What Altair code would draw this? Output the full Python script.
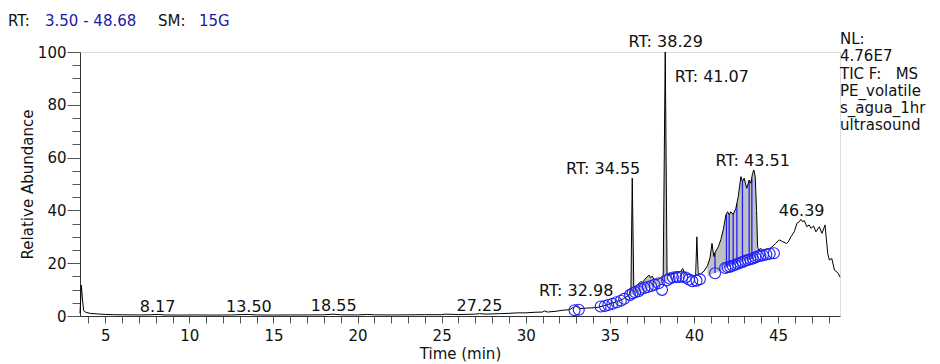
import altair as alt
import pandas as pd

# ---------------- data ----------------
time_min = [3.50, 3.58, 3.65, 3.72, 3.85, 4.10, 4.50, 5.00, 5.50, 6.00, 7.00, 7.60, 8.17, 8.50,
            9.50, 10.50, 11.50, 12.50, 13.50, 14.00, 15.00, 16.00, 17.00, 18.00, 18.55, 19.00,
            20.00, 20.60, 21.00, 22.00, 23.00, 24.00, 25.00, 25.20, 26.00, 27.00, 27.25, 27.60,
            28.00, 28.50, 29.00, 29.50, 30.00, 30.50, 31.00, 31.10, 31.30, 31.80, 32.20, 32.60,
            32.98, 33.20, 33.60, 34.00, 34.30, 34.60, 35.00, 35.40, 35.80, 36.10, 36.25, 36.33,
            36.42, 36.63, 36.83, 36.95, 37.13, 37.33, 37.42, 37.52, 37.62, 37.82, 38.00, 38.17,
            38.29, 38.40, 38.70, 39.00, 39.20, 39.33, 39.45, 39.60, 39.80, 40.00, 40.10, 40.17,
            40.25, 40.40, 40.60, 40.80, 40.95, 41.07, 41.18, 41.25, 41.45, 41.60, 41.75, 41.90,
            42.00, 42.09, 42.19, 42.33, 42.49, 42.63, 42.79, 42.88, 42.98, 43.14, 43.28, 43.38,
            43.48, 43.56, 43.64, 43.72, 43.78, 43.84, 43.98, 44.10, 44.30, 44.50, 44.70, 44.85,
            45.07, 45.27, 45.50, 45.60, 45.76, 45.96, 46.12, 46.26, 46.36, 46.46, 46.56, 46.71,
            46.85, 46.95, 47.11, 47.25, 47.45, 47.61, 47.79, 47.95, 48.05, 48.19, 48.35, 48.58,
            48.68]
abundance = [1.0, 11.7, 6.0, 2.0, 1.4, 1.0, 0.8, 0.6, 0.5, 0.45, 0.4, 0.45, 0.6, 0.4,
             0.35, 0.4, 0.35, 0.4, 0.6, 0.4, 0.35, 0.4, 0.4, 0.45, 0.7, 0.45,
             0.4, 0.6, 0.45, 0.4, 0.45, 0.5, 0.5, 0.7, 0.55, 0.7, 0.9, 0.7,
             0.8, 0.9, 1.0, 1.2, 1.2, 1.4, 1.5, 1.9, 1.5, 1.8, 2.2, 2.4,
             3.8, 2.8, 3.0, 3.1, 3.3, 3.8, 4.6, 5.4, 6.5, 7.8, 9.5, 52.2,
             11.0, 11.7, 13.0, 12.8, 14.3, 15.5, 14.5, 15.1, 13.9, 13.8, 14.3, 15.5,
             100.0, 15.5, 16.0, 16.4, 16.8, 18.0, 16.0, 15.8, 15.6, 15.2, 15.4, 30.0,
             15.8, 16.0, 17.0, 19.0, 22.0, 27.5, 22.5, 24.0, 26.3, 29.0, 33.0, 38.3,
             39.5, 38.3, 39.5, 38.5, 40.8, 45.2, 52.8, 50.9, 52.2, 48.4, 51.5, 50.3,
             54.0, 55.3, 52.8, 40.0, 26.3, 25.0, 25.6, 24.8, 25.3, 25.5, 26.5, 27.5,
             28.8, 28.2, 27.5, 28.0, 30.0, 31.9, 35.1, 35.7, 36.6, 35.7, 36.1, 33.8,
             34.5, 33.2, 34.1, 31.9, 33.8, 31.3, 34.5, 23.7, 21.2, 21.8, 17.4, 16.2,
             14.7]

# integrated (gray) regions: times on the trace and the baseline below them
fill_t = [36.10, 36.25, 36.33, 36.42, 36.63, 36.83, 36.95, 37.13, 37.33, 37.42, 37.52, 37.62,
          37.82, 38.00, 38.17, 38.29, 38.40,
          40.80, 40.95, 41.07, 41.18, 41.25, 41.45, 41.60, 41.75, 41.90, 42.00, 42.09, 42.19,
          42.33, 42.49, 42.63, 42.79, 42.88, 42.98, 43.14, 43.28, 43.38, 43.48, 43.56, 43.64,
          43.72, 43.78]
fill_base = [7.5, 7.9, 8.1, 8.3, 8.8, 9.3, 9.7, 10.2, 10.7, 10.9, 11.2, 11.4,
             11.8, 12.2, 12.6, 13.0, 13.4,
             15.1, 15.5, 15.8, 16.1, 16.3, 16.8, 17.3, 17.9, 18.4, 18.6, 18.8, 19.0,
             19.3, 19.7, 20.0, 20.3, 20.5, 20.7, 21.0, 21.3, 21.5, 21.7, 21.9, 22.0,
             22.2, 22.3]
fill_segment = ["a"] * 17 + ["b"] * 26

# blue peak-boundary drop lines
drop_t = [41.25, 41.93, 42.09, 42.33, 42.55, 42.88, 43.28, 43.44]
drop_top = [24.0, 38.5, 38.3, 38.5, 42.5, 50.9, 51.5, 52.0]
drop_bottom = [16.3, 18.5, 18.9, 19.4, 19.8, 20.5, 21.3, 21.6]

# blue open circles (peak start / end markers)
circle_t = [32.90, 33.15, 34.45, 34.70, 34.90, 35.15, 35.40, 35.65, 35.85, 36.20, 36.35, 36.50,
            36.70, 36.85, 37.05, 37.25, 37.45, 37.65, 37.90, 38.10, 38.40, 38.55, 38.75, 38.95,
            39.10, 39.30, 39.50, 39.70, 39.90, 40.15, 40.35, 41.25, 41.85, 42.00, 42.15, 42.30,
            42.45, 42.60, 42.75, 42.90, 43.05, 43.20, 43.35, 43.50, 43.65, 43.80, 43.95, 44.10,
            44.30, 44.50, 44.75]
circle_a = [2.2, 2.4, 3.6, 3.8, 4.2, 4.6, 5.2, 5.8, 6.5, 8.0, 8.6, 9.0,
            9.4, 10.2, 10.6, 11.0, 11.4, 11.8, 12.4, 9.9, 13.5, 14.2, 14.6, 14.8,
            14.8, 14.9, 14.6, 13.8, 13.2, 13.4, 13.9, 16.2, 18.2, 18.5, 18.7, 19.0,
            19.4, 19.8, 20.2, 20.5, 20.9, 21.2, 21.5, 21.8, 22.2, 22.6, 22.8, 23.0,
            23.3, 23.6, 23.8]

# peak annotations
label_text = ["8.17", "13.50", "18.55", "27.25", "RT: 32.98", "RT: 34.55", "RT: 38.29",
              "RT: 41.07", "RT: 43.51", "46.39"]
label_t = [8.11, 13.54, 18.58, 27.25, 33.0, 34.6, 38.32, 41.06, 43.49, 46.40]
label_a = [1.7, 1.7, 1.9, 2.0, 7.6, 53.8, 102.0, 88.7, 56.8, 37.9]

x_tick_values = list(range(4, 49))
y_tick_values = list(range(0, 101, 5))

# ---------------- chart ----------------
FONT = "DejaVu Sans"
BLUE = "#1a1aa6"

trace = pd.DataFrame({"t": time_min, "a": abundance})
lookup = dict(zip(time_min, abundance))
fills = pd.DataFrame({"t": fill_t, "top": [lookup[v] for v in fill_t],
                      "base": fill_base, "seg": fill_segment})
drops = pd.DataFrame({"t": drop_t, "top": drop_top, "bottom": drop_bottom})
circles = pd.DataFrame({"t": circle_t, "a": circle_a})
labels = pd.DataFrame({"t": label_t, "a": label_a, "txt": label_text})

xscale = alt.Scale(domain=[3.5, 48.68], nice=False, zero=False)
yscale = alt.Scale(domain=[0, 100], nice=False, zero=False)

x_axis = alt.Axis(values=x_tick_values, tickCount=200, format="d",
                  labelExpr="datum.value % 5 === 0 ? datum.label : ''",
                  labelOverlap=False, tickSize=7, labelPadding=5, labelFontSize=15,
                  labelFont=FONT, labelColor="#111", title="Time (min)", titleFont=FONT,
                  titleFontSize=15, titleFontWeight="normal", titleColor="#111", titlePadding=3,
                  domainColor="#333", tickColor="#555", grid=False, labelFlush=False)
y_axis = alt.Axis(values=y_tick_values, tickCount=200, format="d",
                  labelExpr="datum.value % 20 === 0 ? datum.label : ''",
                  labelOverlap=False,
                  tickSize={"condition": {"test": "datum.value % 20 === 0", "value": 13}, "value": 8},
                  labelPadding=1, labelFontSize=15, labelFont=FONT, labelColor="#111",
                  title="Relative Abundance", titleFont=FONT, titleFontSize=15,
                  titleFontWeight="normal", titleColor="#111", titlePadding=2,
                  domainColor="#333", tickColor="#555", grid=False, labelFlush=False)

fill_layer = alt.Chart(fills).mark_area(color="#c0c0c0", opacity=1).encode(
    x=alt.X("t:Q", scale=xscale, axis=x_axis),
    y=alt.Y("top:Q", scale=yscale, axis=y_axis),
    y2="base:Q",
    detail="seg:N",
)

drop_layer = alt.Chart(drops).mark_rule(color="#1f1fff", strokeWidth=1.3).encode(
    x="t:Q", y="top:Q", y2="bottom:Q")

line_layer = alt.Chart(trace).mark_line(color="black", strokeWidth=1).encode(
    x="t:Q", y="a:Q")

circle_layer = alt.Chart(circles).mark_point(shape="circle", filled=False, color="#1f1fff",
                                             size=120, strokeWidth=1.1, opacity=1).encode(
    x="t:Q", y="a:Q")

label_layer = alt.Chart(labels).mark_text(font=FONT, fontSize=16, color="#111",
                                          align="center", baseline="alphabetic").encode(
    x="t:Q", y="a:Q", text="txt:N")


def note(txt, x, y, color="#111"):
    return alt.Chart(pd.DataFrame({"txt": [txt]})).mark_text(
        font=FONT, fontSize=15, color=color, align="left", baseline="alphabetic"
    ).encode(x=alt.value(x), y=alt.value(y), text="txt:N")


header = [
    note("RT:", -72, -26),
    note("3.50 - 48.68", -35, -26, BLUE),
    note("SM:", 78, -26),
    note("15G", 119, -26, BLUE),
]
side_lines = ["NL:", "4.76E7", "TIC F:\u00a0\u00a0\u00a0MS", "PE_volatile", "s_agua_1hr", "ultrasound"]
side_y = [-8, 9, 27, 44, 61, 78]
side = [note(s, 760, yy) for s, yy in zip(side_lines, side_y)]

chart = alt.layer(fill_layer, drop_layer, line_layer, circle_layer, label_layer,
                  *header, *side).properties(
    width=760, height=264,
    autosize=alt.AutoSizeParams(type="none"),
    padding={"left": 80, "top": 52, "right": 100, "bottom": 48},
).configure_view(stroke=None).configure(background="white")

chart.save("out.html", embed_options={"renderer": "svg", "actions": False})
